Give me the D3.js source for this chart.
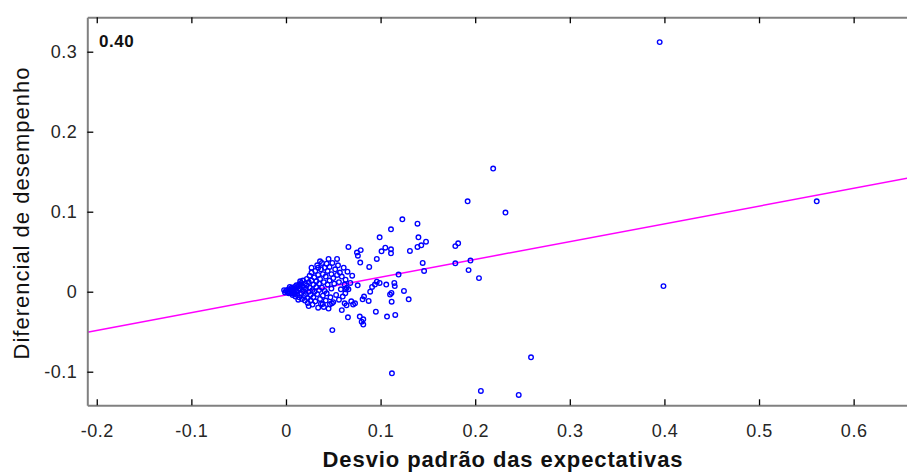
<!DOCTYPE html>
<html>
<head>
<meta charset="utf-8">
<script src="https://cdn.jsdelivr.net/npm/d3@7"></script>
<style>
  body { margin: 0; background: #fff; }
  text { font-family: "Liberation Sans", Arial, sans-serif; }
</style>
</head>
<body>
<div id="chart"></div>
<script>
// far points
const outliers = [
  [0.395, 0.312], [0.219, 0.154], [0.192, 0.113], [0.232, 0.099], [0.561, 0.113],
  [0.399, 0.007], [0.259, -0.082], [0.112, -0.102], [0.206, -0.124], [0.246, -0.129]
];

// the looser points round the cluster
const sparsePoints = [
  [0.123, 0.0905], [0.139, 0.085], [0.111, 0.078], [0.099, 0.068], [0.140, 0.068],
  [0.148, 0.0625], [0.143, 0.058], [0.139, 0.056], [0.066, 0.056], [0.079, 0.052],
  [0.075, 0.049], [0.076, 0.045], [0.0785, 0.0365], [0.105, 0.055], [0.101, 0.0505],
  [0.111, 0.053], [0.111, 0.048], [0.131, 0.051], [0.096, 0.041], [0.179, 0.057],
  [0.182, 0.0605], [0.1445, 0.036], [0.146, 0.026], [0.179, 0.0355], [0.195, 0.039],
  [0.193, 0.027], [0.204, 0.017], [0.088, 0.031], [0.054, 0.041], [0.045, 0.041],
  [0.119, 0.0215], [0.096, 0.0125], [0.099, 0.011], [0.094, 0.009], [0.091, 0.006],
  [0.106, 0.009], [0.1145, 0.011], [0.115, 0.007], [0.089, 0.0], [0.1115, -0.0015],
  [0.110, -0.0035], [0.1247, 0.001], [0.1297, -0.0095], [0.1117, -0.0125], [0.0825, -0.006],
  [0.081, -0.0095], [0.0874, -0.0116], [0.073, -0.0145], [0.071, -0.016], [0.062, -0.0145],
  [0.0627, -0.002], [0.0631, 0.003], [0.0758, 0.008], [0.0642, 0.005], [0.095, -0.025],
  [0.1155, -0.029], [0.1068, -0.031], [0.078, -0.031], [0.0817, -0.0345], [0.080, -0.0375],
  [0.0817, -0.041], [0.0655, -0.032], [0.059, -0.023], [0.049, -0.048], [0.0388, -0.0154],
  [0.0486, -0.0145], [0.0465, -0.0158]
];

// dense cluster near the origin
const clusterPoints = [
  [0.000, 0.001], [0.002, -0.001], [0.003, 0.003], [0.004, 0.000], [0.005, 0.002],
  [0.006, -0.002], [0.007, 0.004], [0.008, 0.001], [0.009, -0.003], [0.010, 0.003],
  [0.003, -0.002], [0.006, 0.005], [0.008, -0.001], [0.001, 0.002], [0.009, 0.006],
  [-0.002, 0.002], [-0.001, -0.001], [0.004, 0.006], [0.007, -0.004], [0.010, -0.006],
  [0.011, 0.000], [0.012, 0.006], [0.012, -0.004], [0.013, 0.002], [0.014, 0.009],
  [0.014, -0.007], [0.015, 0.004], [0.016, -0.002], [0.016, 0.011], [0.017, 0.007],
  [0.017, -0.009], [0.018, 0.001], [0.018, 0.014], [0.019, -0.005], [0.019, 0.005],
  [0.020, 0.010], [0.020, -0.011], [0.013, -0.010], [0.015, 0.013], [0.011, 0.008],
  [0.021, 0.003], [0.021, -0.003], [0.022, 0.016], [0.022, 0.008], [0.023, -0.008],
  [0.023, -0.014], [0.024, 0.012], [0.024, 0.000], [0.025, 0.020], [0.025, 0.005],
  [0.026, -0.011], [0.026, -0.004], [0.027, 0.014], [0.027, 0.024], [0.028, 0.002],
  [0.028, -0.016], [0.029, 0.009], [0.029, -0.007], [0.030, 0.018], [0.030, 0.000],
  [0.024, -0.018], [0.027, 0.030], [0.031, 0.026], [0.031, -0.012], [0.032, 0.006],
  [0.032, 0.013], [0.033, -0.003], [0.033, 0.033], [0.034, 0.021], [0.034, -0.020],
  [0.035, 0.010], [0.035, 0.002], [0.036, -0.009], [0.036, 0.016], [0.037, 0.028],
  [0.037, -0.015], [0.038, 0.005], [0.038, 0.036], [0.039, -0.005], [0.039, 0.022],
  [0.040, 0.012], [0.040, -0.019], [0.034, 0.030], [0.036, 0.038], [0.041, 0.030],
  [0.041, 0.001], [0.042, -0.011], [0.042, 0.019], [0.043, 0.035], [0.043, -0.002],
  [0.044, 0.009], [0.044, 0.026], [0.045, -0.021], [0.046, 0.014], [0.046, 0.031],
  [0.047, -0.007], [0.048, 0.004], [0.048, 0.022], [0.049, 0.036], [0.050, -0.013],
  [0.050, 0.017], [0.051, 0.010], [0.052, 0.028], [0.053, -0.004], [0.054, 0.021],
  [0.055, 0.033], [0.056, 0.012], [0.056, -0.010], [0.057, 0.024], [0.058, 0.003],
  [0.059, 0.019], [0.060, -0.006], [0.061, 0.030], [0.062, 0.009], [0.063, 0.015],
  [0.064, -0.017], [0.065, 0.025], [0.066, 0.003], [0.068, 0.011], [0.069, -0.012],
  [0.070, 0.020]
];

const xTicks = [-0.2, -0.1, 0, 0.1, 0.2, 0.3, 0.4, 0.5, 0.6];
const yTicks = [-0.1, 0, 0.1, 0.2, 0.3];

// fitted line y = a*x + b
const fitSlope = 0.222;
const fitIntercept = -0.004;
const corrLabel = "0.40";

const w = 907;
const h = 473;

const xScale = d3.scaleLinear()
                 .domain([-0.21, 0.66])
                 .range([87.3, 910.4]);
const yScale = d3.scaleLinear()
                 .domain([-0.142, 0.343])
                 .range([405.3, 17.3]);

const svg = d3.select("#chart")
              .append("svg")
              .attr("width", w)
              .attr("height", h)
              .style("display", "block");

const dataset = outliers.concat(sparsePoints, clusterPoints);

// regression line
svg.append("line")
   .attr("x1", xScale(-0.21))
   .attr("y1", yScale(fitSlope * -0.21 + fitIntercept))
   .attr("x2", xScale(0.66))
   .attr("y2", yScale(fitSlope * 0.66 + fitIntercept))
   .attr("stroke", "#ff00ff")
   .attr("stroke-width", 1.5);

svg.selectAll("circle")
   .data(dataset)
   .enter()
   .append("circle")
   .attr("cx", d => xScale(d[0]))
   .attr("cy", d => yScale(d[1]))
   .attr("r", 2.3)
   .attr("fill", "none")
   .attr("stroke", "#0000ff")
   .attr("stroke-width", 1.35);

// plain hyphen for negatives, like the original
const fmt = d => String(d);

const xAxis = d3.axisBottom(xScale).tickValues(xTicks).tickFormat(fmt)
                .tickSizeInner(-6).tickSizeOuter(0).tickPadding(19);
const xTop = d3.axisTop(xScale).tickValues(xTicks).tickFormat("")
               .tickSizeInner(-6).tickSizeOuter(0);
const yAxis = d3.axisLeft(yScale).tickValues(yTicks).tickFormat(fmt)
                .tickSizeInner(-6).tickSizeOuter(0).tickPadding(10);

function styleAxis(g) {
  g.select(".domain").attr("stroke", "#808080").attr("stroke-width", 2);
  g.selectAll(".tick line").attr("stroke", "#000").attr("stroke-width", 1.3);
  g.selectAll(".tick text")
   .attr("fill", "#262626")
   .style("font-size", "18px")
   .style("letter-spacing", "0.5px")
   .style("font-family", "'Liberation Sans', Arial, sans-serif");
}

svg.append("g")
   .attr("transform", "translate(0," + yScale(-0.142) + ")")
   .call(xAxis)
   .call(styleAxis);
svg.append("g")
   .attr("transform", "translate(0," + yScale(0.343) + ")")
   .call(xTop)
   .call(styleAxis);
svg.append("g")
   .attr("transform", "translate(" + xScale(-0.21) + ",0)")
   .call(yAxis)
   .call(styleAxis);

svg.append("text")
   .attr("x", 99)
   .attr("y", 47)
   .attr("font-weight", "bold")
   .attr("font-size", 17)
   .attr("letter-spacing", "0.5px")
   .attr("fill", "#111")
   .text(corrLabel);

svg.append("text")
   .attr("x", 503)
   .attr("y", 467)
   .attr("text-anchor", "middle")
   .attr("font-weight", "bold")
   .attr("font-size", 22)
   .attr("letter-spacing", "0.9px")
   .attr("fill", "#111")
   .text("Desvio padrão das expectativas");

svg.append("text")
   .attr("transform", "translate(29,213) rotate(-90)")
   .attr("text-anchor", "middle")
   .attr("font-size", 22)
   .attr("letter-spacing", "1px")
   .attr("fill", "#111")
   .text("Diferencial de desempenho");
</script>
</body>
</html>
